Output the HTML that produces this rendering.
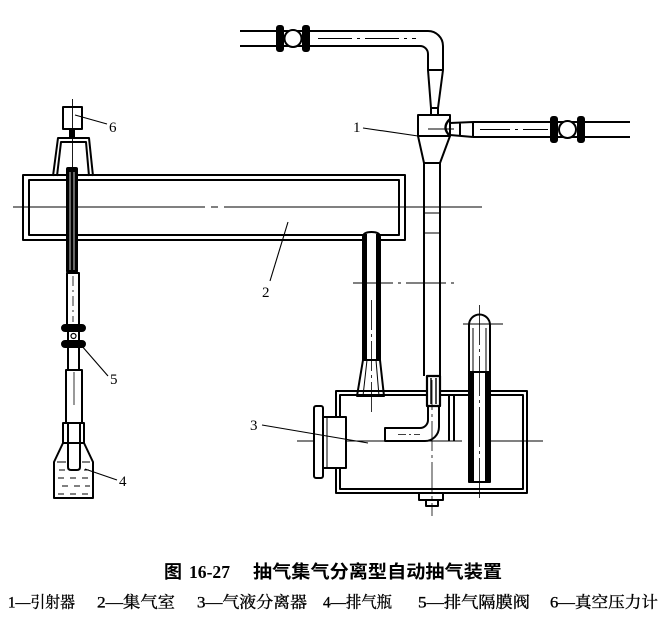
<!DOCTYPE html>
<html><head><meta charset="utf-8"><style>
html,body{margin:0;padding:0;background:#fff;width:668px;height:621px;overflow:hidden}
svg{display:block}
</style></head><body>
<svg width="668" height="621" viewBox="0 0 668 621" xmlns="http://www.w3.org/2000/svg">
<rect width="668" height="621" fill="#fff"/>
<g fill="none" stroke="#000" stroke-width="2" stroke-linejoin="round">

<!-- top-left inlet pipe -->
<path d="M240,31 H428 A15,15 0 0 1 443,46 V70"/>
<path d="M240,46 H420 A8,8 0 0 1 428,54 V70"/>
<line x1="318" y1="38.5" x2="416" y2="38.5" stroke-width="0.9" stroke-dasharray="34 5 3 5"/>
<circle cx="293" cy="38.5" r="8.5" fill="#fff"/>
<rect x="277" y="26" width="6" height="25" rx="2" fill="#000"/>
<rect x="303" y="26" width="6" height="25" rx="2" fill="#000"/>

<!-- injector -->
<path d="M428,70 H443 L438,108 H431 Z" fill="#fff"/>
<rect x="431" y="108" width="7" height="7" fill="#fff"/>
<rect x="418" y="115" width="32" height="21" fill="#fff"/>
<path d="M450,119 Q441,127.5 450,136" stroke-width="2.4"/>
<path d="M450,123 L473,122 M450,135 L473,137 M460,123 V136 M473,122 V137"/>
<path d="M473,122 H630 M473,137 H630"/>
<line x1="480" y1="129.5" x2="548" y2="129.5" stroke-width="0.9" stroke-dasharray="30 5 3 5"/>
<line x1="428" y1="129" x2="454" y2="129" stroke-width="0.9"/>
<circle cx="567.5" cy="129.5" r="8.5" fill="#fff"/>
<rect x="551" y="117" width="6" height="25" rx="2" fill="#000"/>
<rect x="578" y="117" width="6" height="25" rx="2" fill="#000"/>
<path d="M418,136 H450 L440,163 H424 Z" fill="#fff"/>
<path d="M424,163 V376 M440,163 V376"/>
<path d="M424,213 H440 M424,233 H440" stroke-width="1"/>

<!-- gas collecting chamber -->
<rect x="23" y="175" width="382" height="65"/>
<rect x="29" y="180" width="370" height="55"/>
<line x1="13" y1="207" x2="482" y2="207" stroke-width="1" stroke-dasharray="192 6 7 6 400"/>

<!-- down pipe from chamber -->
<path d="M363,237 Q363,232 371.5,232 Q380,232 380,237 V360 H363 Z" fill="#fff"/>
<rect x="363" y="234" width="4" height="126" fill="#000" stroke="none"/>
<rect x="376" y="234" width="4" height="126" fill="#000" stroke="none"/>
<path d="M363,360 H380 L384,396 H357 Z" fill="#fff"/>
<path d="M367,360 L363,396 M376,360 L379,396" stroke-width="1"/>
<line x1="371.5" y1="300" x2="371.5" y2="412" stroke-width="0.8" stroke-dasharray="30 4 3 4"/>
<line x1="353" y1="283" x2="455" y2="283" stroke-width="0.9" stroke-dasharray="40 5 3 5"/>

<!-- separator tank -->
<rect x="336" y="391" width="191" height="102"/>
<rect x="340" y="395" width="183" height="94"/>
<path d="M449,395 V441 M454,395 V441"/>

<!-- bent pipe -->
<path d="M439,376 V427 A14,14 0 0 1 425,441 H385 V428 H420 A8,8 0 0 0 428,420 V376" fill="#fff"/>
<rect x="427" y="376" width="13" height="30" fill="#fff" stroke-width="2.2"/>
<path d="M431,378 V404 M436,378 V404" stroke-width="1.4"/>
<line x1="398" y1="434.5" x2="420" y2="434.5" stroke-width="0.8" stroke-dasharray="8 3 2 3"/>

<line x1="297" y1="441" x2="462" y2="441" stroke-width="0.9"/>
<line x1="468" y1="441" x2="543" y2="441" stroke-width="0.9"/>

<!-- side port -->
<rect x="323" y="417" width="23" height="51" fill="#fff"/>
<rect x="314" y="406" width="9" height="72" rx="2" fill="#fff"/>
<line x1="327" y1="417" x2="327" y2="468" stroke-width="1"/>

<!-- float / level tube -->
<path d="M469,482 V325 A10.5,10.5 0 0 1 490,325 V482 Z" fill="#fff"/>
<rect x="469" y="372" width="5" height="110" fill="#000" stroke="none"/>
<rect x="485" y="372" width="5" height="110" fill="#000" stroke="none"/>
<path d="M473,328 V372 M486,328 V372" stroke-width="1"/>
<line x1="469" y1="372" x2="490" y2="372"/>
<line x1="463" y1="324" x2="503" y2="324" stroke-width="0.9"/>
<line x1="479.5" y1="305" x2="479.5" y2="500" stroke-width="0.8" stroke-dasharray="40 4 3 4"/>

<!-- drain -->
<rect x="419" y="493" width="24" height="7" fill="#fff"/>
<rect x="426" y="500" width="12" height="6" fill="#fff"/>
<line x1="432" y1="380" x2="432" y2="516" stroke-width="0.8" stroke-dasharray="30 4 3 4"/>

<!-- left: gauge & bracket -->
<line x1="72.5" y1="99" x2="72.5" y2="178" stroke-width="0.9"/>
<rect x="63" y="107" width="19" height="22" fill="#fff"/>
<line x1="72.5" y1="107" x2="72.5" y2="129" stroke-width="0.9"/>
<rect x="69" y="129" width="6" height="9" fill="#000" stroke="none"/>
<path d="M53,176 L58,138 H89 L93,176"/>
<path d="M57,176 L61,142 H86 L89,176"/>

<!-- rod -->
<rect x="66" y="167" width="12" height="106" rx="2" fill="#000" stroke="none"/>
<line x1="70" y1="172" x2="70" y2="270" stroke="#fff" stroke-width="0.8"/>
<line x1="74" y1="172" x2="74" y2="270" stroke="#fff" stroke-width="0.8"/>

<rect x="67" y="273" width="12" height="53" fill="#fff"/>
<line x1="73" y1="276" x2="73" y2="322" stroke-width="0.8" stroke-dasharray="10 4 2 4"/>
<path d="M68,331 V341 M79,331 V341"/>
<circle cx="73.5" cy="336" r="2.5" stroke-width="1.2"/>
<rect x="62" y="325" width="23" height="6" rx="3" fill="#000"/>
<rect x="62" y="341" width="23" height="6" rx="3" fill="#000"/>
<path d="M68,347 V370 M79,347 V370"/>
<rect x="66" y="370" width="16" height="53" fill="#fff"/>
<line x1="74" y1="372" x2="74" y2="405" stroke-width="0.8"/>

<!-- bottle -->
<rect x="63" y="423" width="21" height="20" fill="#fff"/>
<path d="M63,443 L54,462 V498 H93 V462 L84,443"/>
<path d="M68,423 V467 Q68,470 71,470 H77 Q80,470 80,467 V423"/>
<g stroke-width="1">
<path d="M57,462 H66 M82,462 H90"/>
<path d="M59,470 H65 M84,470 H89"/>
<path d="M58,478 H64 M70,478 H76 M82,478 H88"/>
<path d="M62,486 H68 M74,486 H80 M85,486 H90"/>
<path d="M58,494 H64 M70,494 H76 M82,494 H88"/>
</g>

<!-- leaders -->
<g stroke-width="1.1">
<path d="M363,128 L418,136"/>
<path d="M270,281 L288,222"/>
<path d="M262,425 L368,443"/>
<path d="M85,469 L117,480"/>
<path d="M81,345 L108,376"/>
<path d="M75,115 L107,124"/>
</g>
</g>

<g font-family="'Liberation Serif', serif" font-size="15" fill="#000">
<text x="353" y="132">1</text>
<text x="262" y="297">2</text>
<text x="250" y="430">3</text>
<text x="119" y="486">4</text>
<text x="110" y="384">5</text>
<text x="109" y="132">6</text>
</g>

<!-- caption -->
<g fill="#000" font-weight="700">
<text x="164" y="578" font-size="18" font-family="'Liberation Sans','Noto Sans CJK SC',sans-serif" textLength="18" lengthAdjust="spacingAndGlyphs">图</text>
<text x="189" y="578" font-size="18" font-family="'Liberation Serif',serif" textLength="41" lengthAdjust="spacingAndGlyphs">16-27</text>
<text x="253" y="578" font-size="18" font-family="'Liberation Sans','Noto Sans CJK SC',sans-serif" textLength="249" lengthAdjust="spacingAndGlyphs">抽气集气分离型自动抽气装置</text>
</g>
<g fill="#000" stroke="#000" stroke-width="0.35" font-size="16" font-family="'Liberation Serif','Noto Serif CJK SC',serif">
<text x="8" y="607.5" textLength="67" lengthAdjust="spacingAndGlyphs">1—引射器</text>
<text x="97" y="607.5" textLength="78" lengthAdjust="spacingAndGlyphs">2—集气室</text>
<text x="197" y="607.5" textLength="110" lengthAdjust="spacingAndGlyphs">3—气液分离器</text>
<text x="323" y="607.5" textLength="69" lengthAdjust="spacingAndGlyphs">4—排气瓶</text>
<text x="418" y="607.5" textLength="112" lengthAdjust="spacingAndGlyphs">5—排气隔膜阀</text>
<text x="550" y="607.5" textLength="108" lengthAdjust="spacingAndGlyphs">6—真空压力计</text>
</g>
</svg>
</body></html>
